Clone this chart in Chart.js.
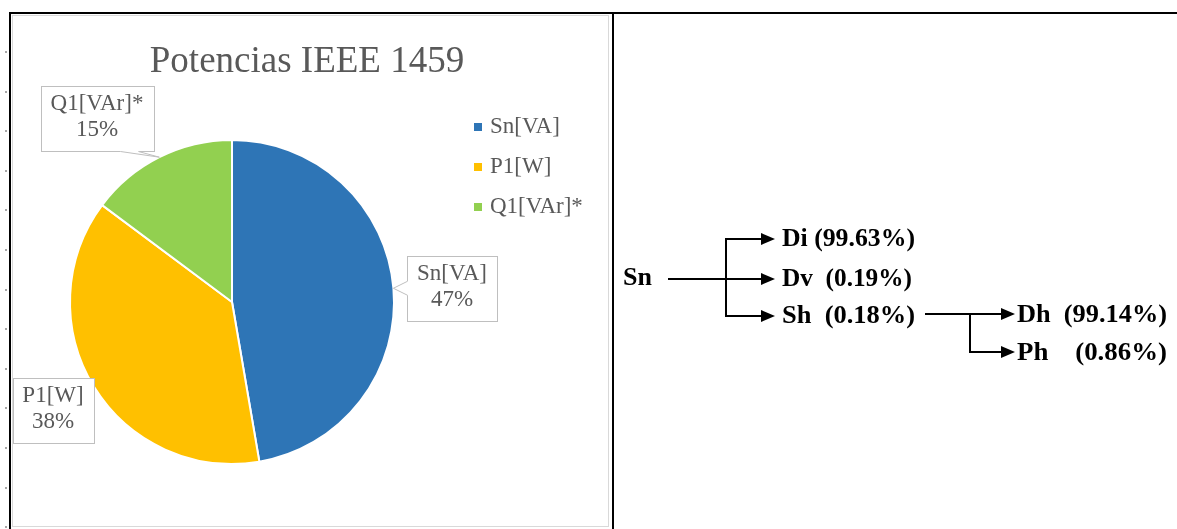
<!DOCTYPE html>
<html>
<head>
<meta charset="utf-8">
<script src="https://cdn.jsdelivr.net/npm/chart.js@4/dist/chart.umd.min.js"></script>
<style>
    body { margin: 0; background: #fff; width: 1177px; height: 529px; position: relative; overflow: hidden; }
    .rule { position: absolute; background: #000; }
    #ruler { position: absolute; left: 5px; top: 32px; width: 2px; height: 497px;
        background: repeating-linear-gradient(to bottom, transparent 0 19px, #a6a6a6 19px 21px, transparent 21px 39.6px); }
    #chartBox { position: absolute; left: 12px; top: 15px; width: 595px; height: 510px; border: 1px solid #d9d9d9; }
    #chartBox canvas { display: block; }
    #tree { position: absolute; left: 0; top: 0; pointer-events: none; }
    #tree text { white-space: pre; }
</style>
</head>
<body>
<div class="rule" style="left:9px;top:12px;width:1168px;height:2px"></div>
<div class="rule" style="left:9px;top:12px;width:2px;height:517px"></div>
<div class="rule" style="left:612px;top:12px;width:2px;height:517px"></div>
<div id="ruler"></div>
<div id="chartBox"><canvas id="pieChart" width="595" height="509"></canvas></div>
<svg id="tree" width="1177" height="529"></svg>

<script>
// Pie data
const chartTitle = 'Potencias IEEE 1459';
const categories = ['Sn[VA]', 'P1[W]', 'Q1[VAr]*'];
const shares = [47.3, 37.9, 14.8];
const sliceColors = ['#2E75B6', '#FFC000', '#92D050'];

// Decomposition tree data
const treeRoot = 'Sn';
const firstLevel = ['Di', 'Dv', 'Sh'];
const firstLevelPct = ['(99.63%)', '(0.19%)', '(0.18%)'];
const secondLevel = ['Dh', 'Ph'];
const secondLevelPct = ['(99.14%)', '(0.86%)'];

// Callout box centres, relative to the pie centre
const calloutOffsets = [[220, -14], [-179, 108], [-135, -184]];

const serif = '"Liberation Serif", "Times New Roman", serif';
const textGray = '#595959';

function drawPointer(ctx, bx, by, w, h, tx, ty) {
    const cx = bx + w / 2, cy = by + h / 2;
    const dx = (tx - cx) / (w / 2), dy = (ty - cy) / (h / 2);
    if (Math.abs(dx) <= 1 && Math.abs(dy) <= 1) return;
    let a, b;
    if (Math.abs(dx) > Math.abs(dy)) {
        const ex = dx > 0 ? bx + w : bx;
        const my = Math.min(Math.max(ty, by + 14), by + h - 14);
        a = [ex, my - 7]; b = [ex, my + 7];
    } else {
        const ey = dy > 0 ? by + h : by;
        const mx = Math.min(Math.max(tx, bx + 20), bx + w - 20);
        a = [mx - 14, ey]; b = [mx + 4, ey];
    }
    ctx.fillStyle = '#fff';
    ctx.beginPath();
    ctx.moveTo(a[0], a[1]); ctx.lineTo(tx, ty); ctx.lineTo(b[0], b[1]); ctx.closePath();
    ctx.fill();
    ctx.strokeStyle = '#fff';
    ctx.lineWidth = 2;
    ctx.beginPath(); ctx.moveTo(a[0], a[1]); ctx.lineTo(b[0], b[1]); ctx.stroke();
    ctx.strokeStyle = '#bfbfbf';
    ctx.lineWidth = 1;
    ctx.beginPath();
    ctx.moveTo(a[0], a[1]); ctx.lineTo(tx, ty); ctx.lineTo(b[0], b[1]);
    ctx.stroke();
}

// Title, legend and callout labels drawn on the chart canvas
const pieDecor = {
    id: 'pieDecor',
    afterDraw(chart) {
        const ctx = chart.ctx;
        const arcs = chart.getDatasetMeta(0).data;
        const total = shares.reduce((s, v) => s + v, 0);
        ctx.save();

        ctx.font = '37px ' + serif;
        ctx.fillStyle = textGray;
        ctx.textAlign = 'center';
        ctx.textBaseline = 'alphabetic';
        ctx.fillText(chartTitle, 294, 56);

        ctx.font = '23px ' + serif;
        ctx.textAlign = 'left';
        ctx.textBaseline = 'middle';
        categories.forEach((label, i) => {
            const y = 111 + i * 40;
            ctx.fillStyle = sliceColors[i];
            ctx.fillRect(461, y - 4, 8, 8);
            ctx.fillStyle = textGray;
            ctx.fillText(label, 477, y);
        });

        arcs.forEach((arc, i) => {
            const p = arc.getProps(['x', 'y', 'startAngle', 'endAngle', 'outerRadius'], true);
            const mid = (p.startAngle + p.endAngle) / 2;
            const tx = p.x + Math.cos(mid) * p.outerRadius;
            const ty = p.y + Math.sin(mid) * p.outerRadius;
            const line1 = categories[i];
            const line2 = Math.round(shares[i] / total * 100) + '%';
            const w = Math.round(Math.max(ctx.measureText(line1).width, ctx.measureText(line2).width) + 20);
            const h = 65;
            const cx = p.x + calloutOffsets[i][0], cy = p.y + calloutOffsets[i][1];
            const bx = Math.round(cx - w / 2) + 0.5, by = Math.round(cy - h / 2) + 0.5;

            ctx.fillStyle = '#fff';
            ctx.fillRect(bx, by, w, h);
            ctx.strokeStyle = '#bfbfbf';
            ctx.lineWidth = 1;
            ctx.strokeRect(bx, by, w, h);
            drawPointer(ctx, bx, by, w, h, tx, ty);

            ctx.fillStyle = textGray;
            ctx.textAlign = 'center';
            ctx.fillText(line1, cx, by + 17);
            ctx.fillText(line2, cx, by + 43);
        });
        ctx.restore();
    }
};

new Chart(document.getElementById('pieChart'), {
    type: 'pie',
    data: {
        labels: categories,
        datasets: [{
            data: shares,
            backgroundColor: sliceColors,
            borderColor: '#ffffff',
            borderWidth: 2,
            hoverOffset: 0,
            radius: 162
        }]
    },
    options: {
        responsive: false,
        animation: false,
        layout: { padding: { left: 20, right: 177, top: 100, bottom: 37 } },
        plugins: {
            legend: { display: false },
            title: { display: false },
            tooltip: { enabled: false }
        }
    },
    plugins: [pieDecor]
});

// Decomposition tree (right cell)
const svgNS = 'http://www.w3.org/2000/svg';
const tree = document.getElementById('tree');

function el(name, attrs, text) {
    const node = document.createElementNS(svgNS, name);
    Object.entries(attrs).forEach(([k, v]) => node.setAttribute(k, v));
    if (text !== undefined) node.textContent = text;
    tree.appendChild(node);
    return node;
}

function line(x1, y1, x2, y2) {
    el('line', { x1, y1, x2, y2, stroke: '#000', 'stroke-width': 2 });
}

function arrow(x1, x2, y) {
    line(x1, y, x2 - 12, y);
    el('polygon', { points: `${x2 - 14},${y - 6} ${x2},${y} ${x2 - 14},${y + 6}`, fill: '#000' });
}

// text fitted to the width it has in the original figure
function label(x, y, text, width) {
    const attrs = {
        x, y, 'dominant-baseline': 'central',
        'font-family': serif, 'font-size': 26, 'font-weight': 'bold', fill: '#000'
    };
    if (width) { attrs.textLength = width; attrs.lengthAdjust = 'spacingAndGlyphs'; }
    el('text', attrs, text);
}

const rootY = 279, branch1X = 726, tip1X = 775, text1X = 782;
const levelY1 = [239, 279, 316];
const gap1 = [' ', '  ', '  '];
const rowW1 = [133, 130, 133];
label(623, rootY - 3, treeRoot);
line(668, rootY, branch1X, rootY);
line(branch1X, levelY1[0], branch1X, levelY1[2]);
firstLevel.forEach((name, i) => {
    arrow(branch1X - 1, tip1X, levelY1[i]);
    label(text1X, levelY1[i] - 2, name + gap1[i] + firstLevelPct[i], rowW1[i]);
});

const startX2 = 925, branch2X = 970, tip2X = 1015, text2X = 1017;
const levelY2 = [314, 352];
const gap2 = ['  ', '    '];
line(startX2, levelY2[0], branch2X, levelY2[0]);
line(branch2X, levelY2[0], branch2X, levelY2[1]);
secondLevel.forEach((name, i) => {
    arrow(branch2X - 1, tip2X, levelY2[i]);
    label(text2X, levelY2[i] - 1, name + gap2[i] + secondLevelPct[i], 150);
});
</script>
</body>
</html>
